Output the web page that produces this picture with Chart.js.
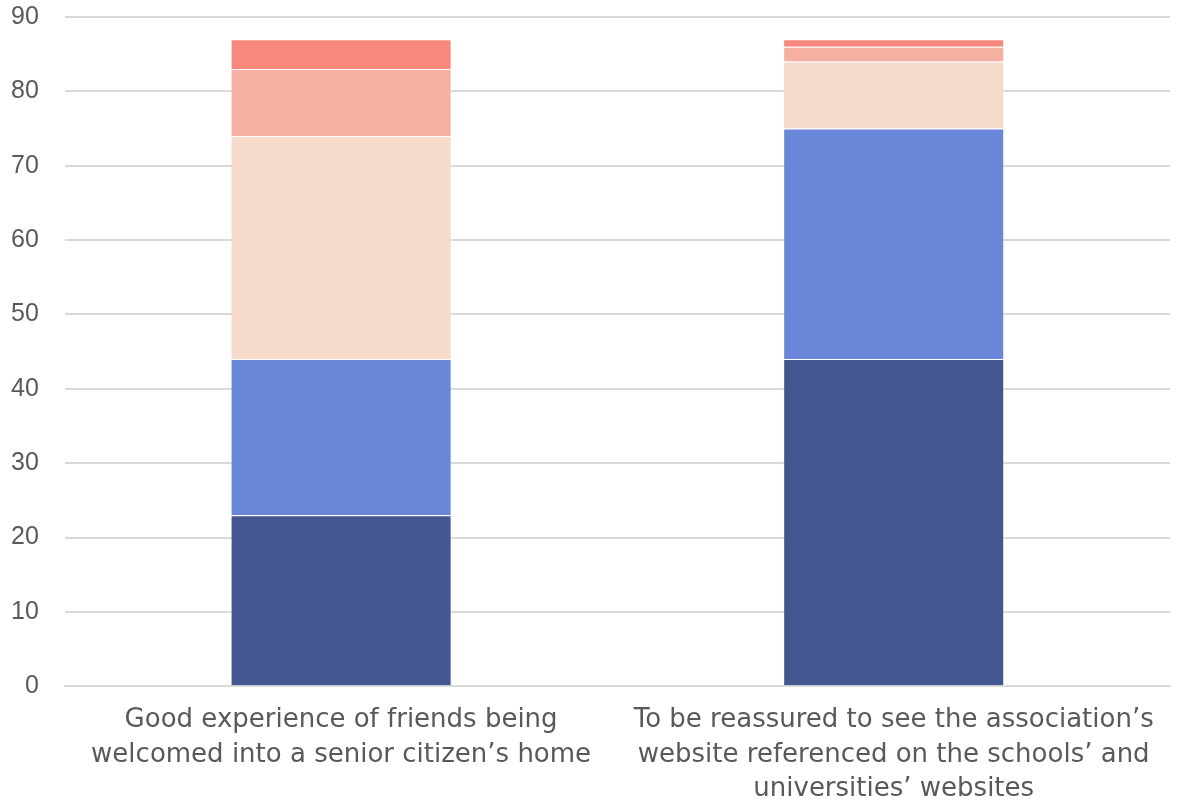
<!DOCTYPE html>
<html>
<head>
<meta charset="utf-8">
<script src="https://cdn.jsdelivr.net/npm/chart.js@4/dist/chart.umd.min.js"></script>
<style>
  html, body { margin: 0; padding: 0; background: #fff; }
  #wrap { width: 1177px; height: 805px; position: relative; }
</style>
</head>
<body>
<div id="wrap"><canvas id="stackChart"></canvas></div>
<script>
// Категории (подписи оси X, по строкам)
const categories = [
    ['Good experience of friends being', 'welcomed into a senior citizen\u2019s home'],
    ['To be reassured to see the association\u2019s', 'website referenced on the schools\u2019 and', 'universities\u2019 websites']
];

// Значения серий снизу вверх
const series1 = [23, 44];
const series2 = [21, 31];
const series3 = [30, 9];
const series4 = [9, 2];
const series5 = [4, 1];

const seriesColors = ['#44568F', '#6A86D9', '#F6DACA', '#F5B0A2', '#F8887D'];

// Деления оси Y
const yMin = 0;
const yMax = 90;
const yStep = 10;

const ctx = document.getElementById('stackChart').getContext('2d');

const datasets = [series1, series2, series3, series4, series5].map((data, i) => ({
    label: 'S' + (i + 1),
    data,
    backgroundColor: seriesColors[i],
    borderColor: 'rgba(255,255,255,0.35)',
    borderWidth: 1,
    categoryPercentage: 0.8,
    barPercentage: 0.5
}));

new Chart(ctx, {
    type: 'bar',
    data: { labels: categories, datasets },
    options: {
        responsive: true,
        maintainAspectRatio: false,
        animation: false,
        layout: { padding: { top: 17, right: 7, left: -15, bottom: -11 } },
        plugins: {
            legend: { display: false },
            tooltip: { enabled: false }
        },
        scales: {
            x: {
                stacked: true,
                grid: { display: false },
                border: { color: '#d9d9d9', width: 2 },
                ticks: {
                    color: '#595959',
                    font: { family: 'DejaVu Sans', size: 26, lineHeight: 1.33 },
                    maxRotation: 0,
                    autoSkip: false,
                    padding: 9
                }
            },
            y: {
                stacked: true,
                min: yMin,
                max: yMax,
                // отступ подписей не должен добавлять место сверху и снизу
                afterFit: scale => {
                    scale.paddingTop = 0;
                    scale.paddingBottom = 0;
                },
                ticks: {
                    stepSize: yStep,
                    color: '#595959',
                    font: { family: 'Liberation Sans', size: 25 },
                    padding: 26
                },
                grid: { color: '#d9d9d9', lineWidth: 2, drawTicks: false },
                border: { display: false }
            }
        }
    }
});
</script>
</body>
</html>
